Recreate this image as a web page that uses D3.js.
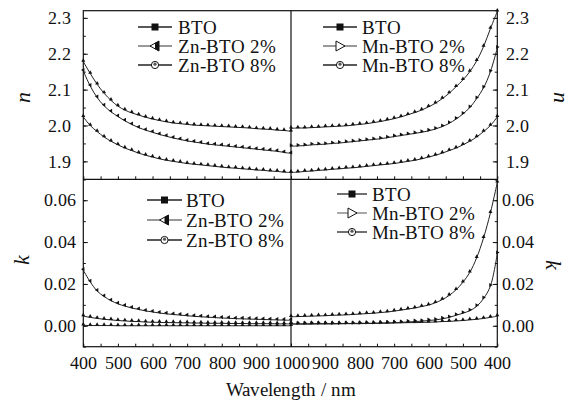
<!DOCTYPE html>
<html>
<head>
<meta charset="utf-8">
<script src="https://cdn.jsdelivr.net/npm/d3@7"></script>
<style>
  @font-face { font-family: "ChartSerif"; src: local("Liberation Serif"), local("LiberationSerif"), local("Tinos"), local("Times New Roman"); }
  @font-face { font-family: "ChartSerif"; font-style: italic; src: local("Liberation Serif Italic"), local("LiberationSerif-Italic"), local("Times New Roman Italic"); }
  html, body { margin: 0; padding: 0; background: #fff; }
  #chart { display: block; }
  #chart text { font-family: "ChartSerif", "Liberation Serif", "Times New Roman", Times, serif; }
</style>
</head>
<body>
<svg id="chart" width="573" height="403"></svg>
<script>
// Wavelength grid (nm) shared by every series
const wavelengths = [400,420,440,460,480,500,520,540,560,580,600,620,640,660,680,700,
  720,740,760,780,800,820,840,860,880,900,920,940,960,980,1000];

// Refractive index n
const nBTO   = [2.024,2.000,1.983,1.968,1.956,1.946,1.937,1.930,1.923,1.917,1.912,1.907,1.903,1.900,1.897,1.894,
  1.892,1.890,1.888,1.886,1.884,1.882,1.881,1.879,1.878,1.876,1.875,1.873,1.872,1.870,1.869];
const nZn2   = [2.152,2.110,2.078,2.055,2.038,2.025,2.013,2.003,1.994,1.987,1.981,1.975,1.970,1.965,1.961,1.957,
  1.954,1.951,1.948,1.946,1.944,1.942,1.940,1.938,1.936,1.934,1.932,1.930,1.928,1.925,1.922];
const nZn8   = [2.178,2.145,2.115,2.090,2.070,2.054,2.043,2.035,2.029,2.023,2.018,2.014,2.010,2.007,2.005,2.003,
  2.001,2.000,1.999,1.998,1.997,1.996,1.995,1.994,1.993,1.991,1.990,1.989,1.987,1.986,1.984];
const nMn2   = [2.216,2.150,2.105,2.075,2.050,2.032,2.018,2.006,1.997,1.990,1.985,1.981,1.978,1.975,1.972,1.969,
  1.966,1.963,1.961,1.959,1.957,1.955,1.953,1.951,1.950,1.948,1.947,1.946,1.944,1.943,1.942];
const nMn8   = [2.318,2.270,2.220,2.180,2.150,2.127,2.108,2.090,2.075,2.062,2.052,2.043,2.036,2.030,2.024,2.019,
  2.015,2.011,2.008,2.005,2.003,2.001,1.999,1.998,1.997,1.996,1.995,1.994,1.993,1.993,1.992];

// Extinction coefficient k
const kBTO   = [0.0046,0.0040,0.0035,0.0031,0.0028,0.0025,0.0023,0.0021,0.0020,0.0018,0.0017,0.0016,0.0015,0.0015,0.0014,0.0014,
  0.0013,0.0013,0.0012,0.0012,0.0012,0.0011,0.0011,0.0011,0.0010,0.0010,0.0010,0.0010,0.0009,0.0009,0.0009];
const kZn2   = [0.0265,0.0210,0.0166,0.0140,0.0120,0.0105,0.0094,0.0085,0.0078,0.0071,0.0066,0.0061,0.0057,0.0054,0.0051,0.0048,
  0.0045,0.0043,0.0041,0.0039,0.0037,0.0036,0.0034,0.0033,0.0032,0.0031,0.0030,0.0029,0.0028,0.0027,0.0026];
const kZn8   = [0.0002,0.0001,0.0001,0.0001,0.0001,0.0000,0.0000,0.0000,0.0000,0.0000,0.0000,0.0000,0.0000,0.0000,0.0000,0.0000,
  0.0000,0.0000,0.0000,0.0000,0.0000,0.0000,0.0000,0.0000,0.0000,0.0000,0.0000,0.0000,0.0000,0.0000,0.0000];
const kMn2   = [0.0345,0.0190,0.0130,0.0093,0.0072,0.0060,0.0050,0.0040,0.0033,0.0028,0.0025,0.0022,0.0020,0.0018,0.0016,0.0014,
  0.0013,0.0012,0.0011,0.0011,0.0010,0.0010,0.0010,0.0009,0.0009,0.0009,0.0009,0.0008,0.0008,0.0008,0.0008];
const kMn8   = [0.0685,0.0540,0.0420,0.0325,0.0255,0.0208,0.0172,0.0145,0.0125,0.0110,0.0099,0.0092,0.0085,0.0080,0.0075,0.0070,
  0.0066,0.0063,0.0060,0.0058,0.0056,0.0054,0.0052,0.0051,0.0050,0.0048,0.0047,0.0046,0.0045,0.0044,0.0043];

// Series labels and tick values
const labelsZn = ["BTO", "Zn-BTO 2%", "Zn-BTO 8%"];
const labelsMn = ["BTO", "Mn-BTO 2%", "Mn-BTO 8%"];
const xMajorLeft  = [400,500,600,700,800,900,1000];
const xMajorRight = [900,800,700,600,500,400];
const xMinor = [400,450,500,550,600,650,700,750,800,850,900,950,1000];
const nMajor = [1.9,2.0,2.1,2.2,2.3];
const nMinor = [1.85,1.9,1.95,2.0,2.05,2.1,2.15,2.2,2.25,2.3];
const kMajor = [0.00,0.02,0.04,0.06];
const kMinor = [-0.01,0.00,0.01,0.02,0.03,0.04,0.05,0.06,0.07];

const FACE = "Liberation Serif, Tinos, Times New Roman, serif";
const svg = d3.select("#chart").attr("font-family", FACE);

// Frame geometry
const L = 83.3, M = 291, R = 497.3;
const T = 10.7, MID = 179.3, B = 346.7;

const xL = d3.scaleLinear().domain([400, 1000]).range([L, M]);
const xR = d3.scaleLinear().domain([1000, 400]).range([M, R]);
const yN = d3.scaleLinear().domain([1.85, 2.32]).range([MID, T]);
const yK = d3.scaleLinear().domain([-0.01, 0.07]).range([B, MID]);

// --- axes ---
function styleAxis(g) {
  g.attr("font-family", FACE).attr("font-size", 18);
  g.select(".domain").remove();
  g.selectAll(".tick line").attr("stroke", "#111").attr("stroke-width", 1);
  g.selectAll(".tick text").attr("font-family", FACE).attr("font-size", 18).attr("fill", "#111");
}

// y axes (ticks pointing inward)
function yAxes(scale, major, minor, fmt, padL, padR) {
  svg.append("g").attr("transform", `translate(${L},0)`)
    .call(d3.axisLeft(scale).tickValues(minor).tickSize(-2.5).tickFormat(""))
    .call(styleAxis);
  svg.append("g").attr("transform", `translate(${L},0)`)
    .call(d3.axisLeft(scale).tickValues(major).tickSize(-4.5).tickPadding(padL).tickFormat(d3.format(fmt)))
    .call(styleAxis);
  svg.append("g").attr("transform", `translate(${R},0)`)
    .call(d3.axisRight(scale).tickValues(minor).tickSize(-2.5).tickFormat(""))
    .call(styleAxis);
  svg.append("g").attr("transform", `translate(${R},0)`)
    .call(d3.axisRight(scale).tickValues(major).tickSize(-4.5).tickPadding(padR).tickFormat(d3.format(fmt)))
    .call(styleAxis);
}
yAxes(yN, nMajor, nMinor, ".1f", 12, 9);
yAxes(yK, kMajor, kMinor, ".2f", 7, 4.5);

// x ticks on the lower edge of each row (pointing up)
[MID, B].forEach(yPos => {
  [xL, xR].forEach(xs => {
    svg.append("g").attr("transform", `translate(0,${yPos})`)
      .call(d3.axisBottom(xs).tickValues(xMinor).tickSize(-3).tickFormat(""))
      .call(styleAxis);
  });
});
svg.append("g").attr("transform", `translate(0,${B})`)
  .call(d3.axisBottom(xL).tickValues(xMajorLeft).tickSize(0).tickPadding(10).tickFormat(d3.format("d")))
  .call(styleAxis);
svg.append("g").attr("transform", `translate(0,${B})`)
  .call(d3.axisBottom(xR).tickValues(xMajorRight).tickSize(0).tickPadding(10).tickFormat(d3.format("d")))
  .call(styleAxis);

// frame and dividers
svg.append("rect").attr("x", L).attr("y", T).attr("width", R - L).attr("height", B - T)
  .attr("fill", "none").attr("stroke", "#111").attr("stroke-width", 1.2);
svg.append("line").attr("x1", M).attr("x2", M).attr("y1", T).attr("y2", B)
  .attr("stroke", "#111").attr("stroke-width", 1.2);
svg.append("line").attr("x1", L).attr("x2", R).attr("y1", MID).attr("y2", MID)
  .attr("stroke", "#111").attr("stroke-width", 1.2);

// --- data curves ---
const triUp = d3.symbol().type(d3.symbolTriangle).size(7);
function drawSeries(xs, ys, values, rot) {
  const pts = wavelengths.map((w, i) => [xs(w), ys(values[i])]);
  svg.append("path")
    .attr("d", d3.line().curve(d3.curveCatmullRom)(pts))
    .attr("fill", "none").attr("stroke", "#222").attr("stroke-width", 1);
  svg.append("g").selectAll("path").data(pts).join("path")
    .attr("d", triUp())
    .attr("transform", d => `translate(${d[0]},${d[1] - 1}) rotate(${rot})`)
    .attr("fill", "#111");
}
drawSeries(xL, yN, nBTO, 0);
drawSeries(xL, yN, nZn2, -90);
drawSeries(xL, yN, nZn8, 0);
drawSeries(xR, yN, nBTO, 0);
drawSeries(xR, yN, nMn2, 90);
drawSeries(xR, yN, nMn8, 0);
drawSeries(xL, yK, kBTO, 0);
drawSeries(xL, yK, kZn2, -90);
drawSeries(xL, yK, kZn8, 0);
drawSeries(xR, yK, kBTO, 0);
drawSeries(xR, yK, kMn2, 90);
drawSeries(xR, yK, kMn8, 0);

// --- legends ---
function legend(x0, x1, xt, rows, labels, dir) {
  labels.forEach((lab, i) => {
    const y = rows[i];
    const cx = (x0 + x1) / 2;
    svg.append("line").attr("x1", x0).attr("x2", x1).attr("y1", y).attr("y2", y)
      .attr("stroke", i === 1 ? "#777" : "#222").attr("stroke-width", 1.3);
    if (i === 0) {
      svg.append("rect").attr("x", cx - 3.5).attr("y", y - 3.5).attr("width", 7).attr("height", 7)
        .attr("fill", "#111");
    } else if (i === 1) {
      const s = dir;                   // -1: points left, +1: points right
      const tri = [[cx + 5 * s, y], [cx - 4 * s, y - 5], [cx - 4 * s, y + 5]];
      svg.append("path").attr("d", d3.line()(tri) + "Z")
        .attr("fill", "#fff").attr("stroke", "#111").attr("stroke-width", 1);
      if (s < 0) {
        svg.append("path").attr("d", d3.line()([[cx, y - 3], [cx + 4, y - 5], [cx + 4, y + 5], [cx, y + 3]]) + "Z")
          .attr("fill", "#111");
      }
    } else {
      svg.append("circle").attr("cx", cx).attr("cy", y).attr("r", 3.6)
        .attr("fill", "#fff").attr("stroke", "#111").attr("stroke-width", 1);
      svg.append("circle").attr("cx", cx).attr("cy", y - 0.8).attr("r", 1.6).attr("fill", "#555");
    }
    svg.append("text").attr("x", xt).attr("y", y).attr("dy", "0.35em")
      .attr("font-family", FACE).attr("font-size", 19).attr("fill", "#111").text(lab);
  });
}
legend(138, 172, 178, [27, 46, 65], labelsZn, -1);
legend(323, 357, 362, [27, 46, 65], labelsMn, 1);
legend(147, 182, 186, [200, 220, 240], labelsZn, -1);
legend(337, 367, 372, [194, 213, 232], labelsMn, 1);

// --- axis titles ---
function title(x, y, rot, txt) {
  svg.append("text").attr("transform", `translate(${x},${y}) rotate(${rot})`)
    .attr("text-anchor", "middle").attr("dy", "0.3em").attr("fill", "#111")
    .attr("font-family", FACE).attr("font-size", 22).attr("font-style", "italic").text(txt);
}
title(23, 97, -90, "n");
title(561, 97, 90, "n");
title(22, 260, -90, "k");
title(553, 265, 90, "k");

svg.append("text").attr("x", xL(1000)).attr("y", 396)
  .attr("text-anchor", "middle").attr("font-family", FACE).attr("font-size", 19).attr("fill", "#111")
  .text("Wavelength / nm");
</script>
</body>
</html>
